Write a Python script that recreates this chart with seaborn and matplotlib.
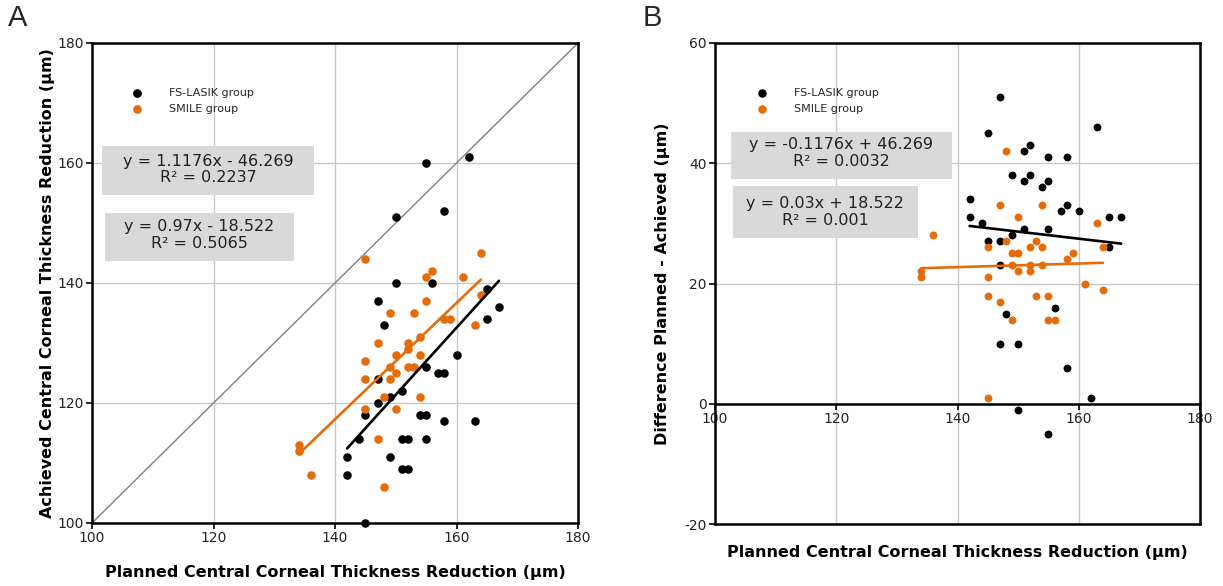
import numpy as np
import pandas as pd
import matplotlib
matplotlib.use('Agg')
import matplotlib.pyplot as plt
from matplotlib.patches import Rectangle
import seaborn as sns

# FS-LASIK group: planned vs achieved central corneal thickness reduction (um)
planned_lasik = [155, 162, 150, 158, 150, 156, 147, 148, 165, 167, 165, 160, 155, 157, 158, 147, 149, 151,
                 147, 145, 154, 155, 158, 163, 144, 151, 152, 155, 142, 149, 142, 151, 152, 145, 147]
achieved_lasik = [160, 161, 151, 152, 140, 140, 137, 133, 139, 136, 134, 128, 126, 125, 125, 124, 121, 122,
                  120, 118, 118, 118, 117, 117, 114, 114, 114, 114, 111, 111, 108, 109, 109, 100, 96]

# SMILE group
planned_smile = [145, 164, 155, 156, 161, 155, 149, 153, 158, 159, 164, 163, 147, 152, 152, 154, 150,
                 154, 145, 149, 152, 153, 150, 145, 149, 148, 154, 145, 150, 147, 134, 134, 136, 148]
achieved_smile = [144, 145, 141, 142, 141, 137, 135, 135, 134, 134, 138, 133, 130, 130, 129, 131, 128,
                  128, 127, 126, 126, 126, 125, 124, 124, 121, 121, 119, 119, 114, 113, 112, 108, 106]

# trendline coefficients (slope, intercept) as printed on the chart
fit_lasik_a = (1.1176, -46.269)
fit_smile_a = (0.97, -18.522)
fit_lasik_b = (-0.1176, 46.269)
fit_smile_b = (0.03, 18.522)
eq_a = ['y = 1.1176x - 46.269', 'R\u00b2 = 0.2237', 'y = 0.97x - 18.522', 'R\u00b2 = 0.5065']
eq_b = ['y = -0.1176x + 46.269', 'R\u00b2 = 0.0032', 'y = 0.03x + 18.522', 'R\u00b2 = 0.001']

lasik = pd.DataFrame({'planned': planned_lasik, 'achieved': achieved_lasik})
smile = pd.DataFrame({'planned': planned_smile, 'achieved': achieved_smile})
lasik['diff'] = lasik['planned'] - lasik['achieved']
smile['diff'] = smile['planned'] - smile['achieved']

orange = '#E46C0A'
gridc = '#c8c8c8'

sns.set_theme(style='white')
plt.rcParams['font.family'] = ['DejaVu Sans']
plt.rcParams['axes.unicode_minus'] = False

W, H = 1223, 586
fig = plt.figure(figsize=(W / 100, H / 100), dpi=100)
axA = fig.add_axes([92 / W, 63 / H, 486 / W, 480 / H])
axB = fig.add_axes([715 / W, 62 / H, 485 / W, 481 / H])


def base_style(ax):
    ax.set_xlim(100, 180)
    ax.set_xticks(range(100, 181, 20))
    ax.grid(True, color=gridc, lw=1)
    ax.set_axisbelow(True)
    for s in ax.spines.values():
        s.set_color('black')
        s.set_linewidth(1.8)
    ax.tick_params(bottom=True, left=True, direction='out', length=4, width=1.2,
                   color='black', labelsize=10, labelcolor='#222222', pad=2)


def trend(ax, df, fit, col):
    xs = np.array([df['planned'].min(), df['planned'].max()])
    ax.plot(xs, fit[0] * xs + fit[1], color=col, lw=1.9, zorder=4)


def eq_box(ax, x0, y0, w, h, lines, cx, ys):
    ax.add_patch(Rectangle((x0, y0), w, h, transform=ax.transAxes, facecolor='#d9d9d9',
                           edgecolor='none', zorder=5))
    for txt, yy in zip(lines, ys):
        ax.text(cx, yy, txt, transform=ax.transAxes, ha='center', va='center',
                fontsize=11.5, color='#222222', zorder=6)


def legend(ax, x, mscale):
    ax.legend(loc='upper left', bbox_to_anchor=(x, 0.906), frameon=False, fontsize=8,
              handletextpad=1.9, borderpad=0, borderaxespad=0, labelspacing=0.5,
              markerscale=mscale)


# ---- panel A
base_style(axA)
axA.set_ylim(100, 180)
axA.set_yticks(range(100, 181, 20))
axA.axline((0, 0), slope=1, color='#808080', lw=1, zorder=1)
la = lasik[lasik['achieved'] >= 100]
sm = smile[smile['achieved'] >= 100]
sns.scatterplot(data=la, x='planned', y='achieved', color='black', s=38, linewidth=0,
                ax=axA, label='FS-LASIK group', clip_on=False, zorder=3)
sns.scatterplot(data=sm, x='planned', y='achieved', color=orange, s=38, linewidth=0,
                ax=axA, label='SMILE group', clip_on=False, zorder=3)
trend(axA, lasik, fit_lasik_a, 'black')
trend(axA, smile, fit_smile_a, orange)
legend(axA, 0.069, 1.02)
eq_box(axA, 0.0206, 0.683, 0.436, 0.102, eq_a[:2], 0.2387, [0.754, 0.719])
eq_box(axA, 0.0274, 0.546, 0.388, 0.099, eq_a[2:], 0.221, [0.617, 0.583])
axA.set_xlabel('Planned Central Corneal Thickness Reduction (\u00b5m)', fontsize=11.5,
               fontweight='bold', color='black')
axA.set_ylabel('Achieved Central Corneal Thickness Reduction (\u00b5m)', fontsize=11.5,
               fontweight='bold', color='black')
axA.xaxis.set_label_coords(0.5, -0.087)
axA.yaxis.set_label_coords(-0.076, 0.5)

# ---- panel B
base_style(axB)
axB.set_ylim(-20, 60)
axB.set_yticks(range(-20, 61, 20))
axB.spines['bottom'].set_position(('data', 0))
axB.axhline(-20, color='black', lw=1.8, zorder=2.5, clip_on=False)
sns.scatterplot(data=lasik, x='planned', y='diff', color='black', s=32, linewidth=0,
                ax=axB, label='FS-LASIK group', zorder=3)
sns.scatterplot(data=smile, x='planned', y='diff', color=orange, s=32, linewidth=0,
                ax=axB, label='SMILE group', zorder=3)
trend(axB, lasik, fit_lasik_b, 'black')
trend(axB, smile, fit_smile_b, orange)
legend(axB, 0.0734, 1.08)
eq_box(axB, 0.0324, 0.7167, 0.4557, 0.099, eq_b[:2], 0.26, [0.789, 0.753])
eq_box(axB, 0.037, 0.5946, 0.3816, 0.108, eq_b[2:], 0.227, [0.667, 0.632])
axB.set_xlabel('Planned Central Corneal Thickness Reduction (\u00b5m)', fontsize=11.5,
               fontweight='bold', color='black')
axB.set_ylabel('Difference Planned - Achieved (\u00b5m)', fontsize=11.5,
               fontweight='bold', color='black')
axB.xaxis.set_label_coords(0.5, -0.044)
axB.yaxis.set_label_coords(-0.093, 0.5)

fig.text(8 / W, 1 - 4 / H, 'A', va='top', ha='left', fontsize=21, family='Liberation Sans')
fig.text(643 / W, 1 - 4 / H, 'B', va='top', ha='left', fontsize=21, family='Liberation Sans')

fig.savefig('out.png', dpi=100)
